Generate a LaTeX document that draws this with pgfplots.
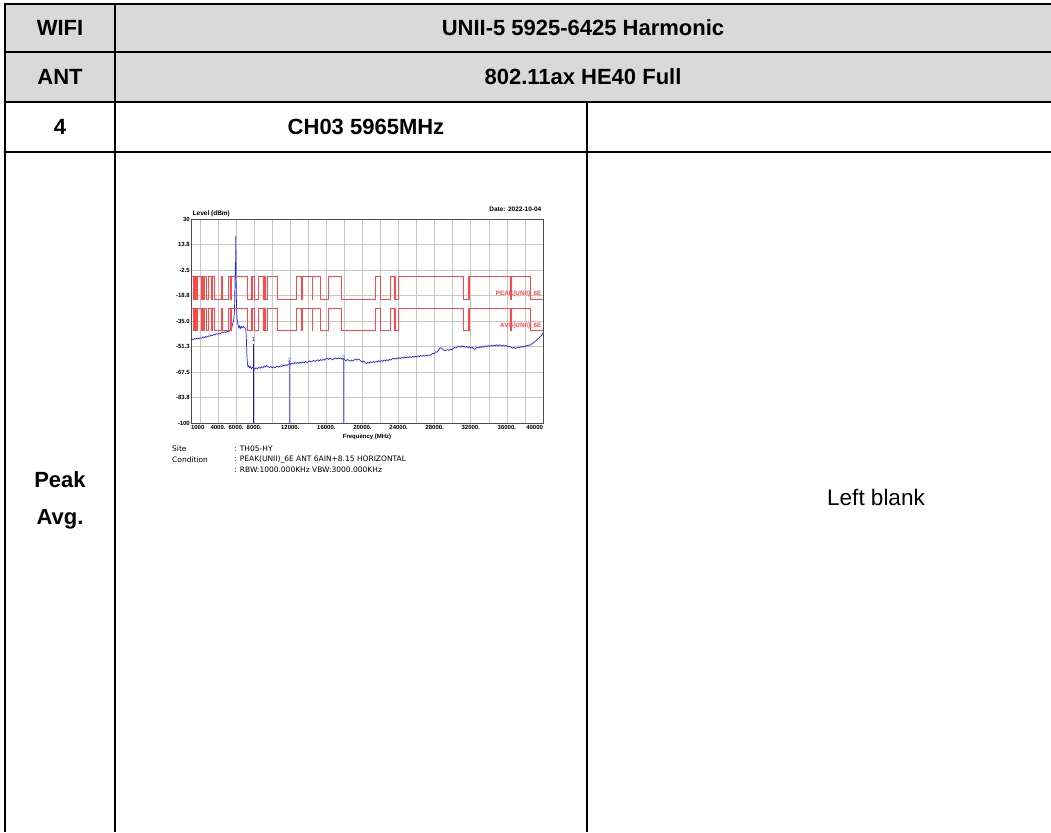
\documentclass[border=0pt]{standalone}
\usepackage{pgfplots}
\pgfplotsset{compat=1.18}
\usepackage{fontspec}
\setmainfont{Liberation Sans}
\newfontfamily\sitefont{DejaVu Sans}
\definecolor{hdrgray}{HTML}{D9D9D9}
\definecolor{limred}{HTML}{FF4848}
\definecolor{trace}{HTML}{2323FF}
\definecolor{mkone}{HTML}{1A1AA8}
\definecolor{mktwo}{HTML}{6A6AFF}
\newcommand{\chartfont}{\fontsize{6}{7}\selectfont\bfseries}
\newcommand{\hdrfont}{\fontsize{22}{26}\selectfont}
\pgfplotstableread{
f peak avg
1000 -6.8 -27
1300 -6.8 -27
1300 -21.2 -41.2
1427 -21.2 -41.2
1427 -6.8 -27
1435 -6.8 -27
1435 -21.2 -41.2
1626.5 -21.2 -41.2
1626.5 -6.8 -27
1645.5 -6.8 -27
1645.5 -21.2 -41.2
1646.5 -21.2 -41.2
1646.5 -6.8 -27
1660 -6.8 -27
1660 -21.2 -41.2
1710 -21.2 -41.2
1710 -6.8 -27
1718.8 -6.8 -27
1718.8 -21.2 -41.2
1722.2 -21.2 -41.2
1722.2 -6.8 -27
2200 -6.8 -27
2200 -21.2 -41.2
2300 -21.2 -41.2
2300 -6.8 -27
2310 -6.8 -27
2310 -21.2 -41.2
2390 -21.2 -41.2
2390 -6.8 -27
2483.5 -6.8 -27
2483.5 -21.2 -41.2
2500 -21.2 -41.2
2500 -6.8 -27
2690 -6.8 -27
2690 -21.2 -41.2
2900 -21.2 -41.2
2900 -6.8 -27
3260 -6.8 -27
3260 -21.2 -41.2
3267 -21.2 -41.2
3267 -6.8 -27
3332 -6.8 -27
3332 -21.2 -41.2
3339 -21.2 -41.2
3339 -6.8 -27
3345.8 -6.8 -27
3345.8 -21.2 -41.2
3358 -21.2 -41.2
3358 -6.8 -27
3600 -6.8 -27
3600 -21.2 -41.2
4400 -21.2 -41.2
4400 -6.8 -27
4500 -6.8 -27
4500 -21.2 -41.2
5150 -21.2 -41.2
5150 -6.8 -27
5350 -6.8 -27
5350 -21.2 -41.2
5460 -21.2 -41.2
5460 -6.8 -27
7250 -6.8 -27
7250 -21.2 -41.2
7750 -21.2 -41.2
7750 -6.8 -27
8025 -6.8 -27
8025 -21.2 -41.2
8500 -21.2 -41.2
8500 -6.8 -27
9000 -6.8 -27
9000 -21.2 -41.2
9200 -21.2 -41.2
9200 -6.8 -27
9300 -6.8 -27
9300 -21.2 -41.2
9500 -21.2 -41.2
9500 -6.8 -27
10600 -6.8 -27
10600 -21.2 -41.2
12700 -21.2 -41.2
12700 -6.8 -27
13250 -6.8 -27
13250 -21.2 -41.2
13400 -21.2 -41.2
13400 -6.8 -27
14470 -6.8 -27
14470 -21.2 -41.2
14500 -21.2 -41.2
14500 -6.8 -27
15350 -6.8 -27
15350 -21.2 -41.2
16200 -21.2 -41.2
16200 -6.8 -27
17700 -6.8 -27
17700 -21.2 -41.2
21400 -21.2 -41.2
21400 -6.8 -27
22010 -6.8 -27
22010 -21.2 -41.2
23120 -21.2 -41.2
23120 -6.8 -27
23600 -6.8 -27
23600 -21.2 -41.2
24000 -21.2 -41.2
24000 -6.8 -27
31200 -6.8 -27
31200 -21.2 -41.2
31800 -21.2 -41.2
31800 -6.8 -27
36430 -6.8 -27
36430 -21.2 -41.2
36500 -21.2 -41.2
36500 -6.8 -27
38600 -6.8 -27
38600 -21.2 -41.2
40000 -21.2 -41.2
}\limits
\begin{document}
\begin{tikzpicture}[x=1pt,y=-1pt]
% header background
\fill[hdrgray] (5,4) rectangle (1051,102);
% table lines
\begin{scope}[line width=2pt, black]
\draw (5,4) -- (1051,4);
\draw (5,52) -- (1051,52);
\draw (5,102) -- (1051,102);
\draw (5,152) -- (1051,152);
\draw (5,3) -- (5,832);
\draw (115,3) -- (115,832);
\draw (587,102) -- (587,832);
\end{scope}
% table text
\node[font=\hdrfont\bfseries] at (60,28) {WIFI};
\node[font=\hdrfont\bfseries] at (583,28) {UNII-5 5925-6425 Harmonic};
\node[font=\hdrfont\bfseries] at (60,77) {ANT};
\node[font=\hdrfont\bfseries] at (583,77) {802.11ax HE40 Full};
\node[font=\hdrfont\bfseries] at (60,127) {4};
\node[font=\hdrfont\bfseries] at (366,127) {CH03 5965MHz};
\node[font=\hdrfont\bfseries] at (60,480) {Peak};
\node[font=\hdrfont\bfseries] at (60,519) {Avg.};
\node[font=\fontsize{22.5}{26}\selectfont] at (876,497) {Left blank};
% site text
\begin{scope}[font=\sitefont\fontsize{7.5}{9}\selectfont, inner sep=0pt]
\node[anchor=west] at (172,449) {Site};
\node[anchor=west] at (234,449) {: TH05-HY};
\node[anchor=west] at (172,459.5) {Condition};
\node[anchor=west] at (234,459.5) {: PEAK(UNII)\_6E ANT 6AIN+8.15 HORIZONTAL};
\node[anchor=west] at (234,469.5) {: RBW:1000.000KHz VBW:3000.000KHz};
\end{scope}
\begin{axis}[
  at={(191pt,-423pt)}, anchor=south west,
  width=352pt, height=204pt, scale only axis,
  xmin=1000, xmax=40000, ymin=-100, ymax=30,
  scaled x ticks=false, scaled y ticks=false,
  xtick={1000,4000,6000,8000,12000,16000,20000,24000,28000,32000,36000,40000},
  xticklabels={\makebox[0pt][l]{1000},4000.,6000.,8000.,12000.,16000.,20000.,24000.,28000.,32000.,36000.,\makebox[0pt][r]{40000}},
  minor xtick={2000,4000,...,38000},
  ytick={-100,-83.75,-67.5,-51.25,-35,-18.75,-2.5,13.75,30},
  yticklabels={-100,-83.8,-67.5,-51.3,-35.0,-18.8,-2.5,13.8,30},
  /pgf/number format/assume math mode=true,
  grid=both,
  major grid style={black!22, line width=0.7pt},
  minor grid style={black!22, line width=0.7pt},
  major tick length=0pt, minor tick length=0pt,
  axis line style={black!70, line width=0.8pt},
  tick label style={font=\chartfont},
  xticklabel style={inner sep=1pt, yshift=-1pt},
  yticklabel style={inner sep=1pt},
  xlabel={Frequency (MHz)},
  xlabel style={font=\chartfont, inner sep=0pt, at={(axis description cs:0.5,0)}, anchor=center, yshift=-14pt},
  ylabel={Level (dBm)},
  ylabel style={rotate=-90, at={(axis description cs:0,1)}, anchor=south west, inner sep=1.5pt, font=\fontsize{6.5}{7}\selectfont\bfseries},
  title={Date: 2022-10-04},
  title style={at={(axis description cs:1,1)}, anchor=south east, inner sep=1.5pt, font=\fontsize{6.5}{7}\selectfont\bfseries},
]
% markers
\addplot[color=mkone, line width=1.2pt] coordinates {(7930,-100) (7930,-49.7)};
\addplot[color=mktwo, line width=1.1pt] coordinates {(11930,-100) (11930,-59.9)};
\addplot[color=mktwo, line width=1.1pt] coordinates {(17895,-100) (17895,-58.8)};
% measured trace
\addplot[color=trace, line width=0.7pt] coordinates {
(1000,-47.2) (1100,-46.4) (1250,-46.9) (1400,-46.1) (1550,-46.6) (1700,-45.8) (1850,-46.3) (2000,-45.7)
(2150,-46.0) (2300,-45.2) (2450,-45.6) (2600,-44.9) (2750,-45.3) (2900,-44.5) (3050,-44.8) (3200,-44.0)
(3350,-44.4) (3500,-43.6) (3650,-43.9) (3800,-43.1) (3950,-43.5) (4100,-42.7) (4250,-43.0) (4400,-42.3)
(4550,-42.6) (4700,-41.9) (4850,-42.3) (5000,-41.6) (5150,-41.9) (5300,-41.0) (5450,-40.2) (5550,-38.5)
(5650,-36.0) (5750,-33.5) (5820,-28.0) (5870,-12.0) (5905,2.5) (5935,-2.0) (5965,19.2) (5990,-4.0)
(6015,-17.5) (6050,-26.0) (6100,-33.5) (6200,-37.0) (6300,-39.5) (6400,-38.2) (6500,-39.8) (6600,-38.6)
(6700,-39.1) (6800,-38.4) (6900,-39.0) (7000,-39.6) (7080,-40.8) (7130,-45.0) (7170,-53.0) (7210,-58.5)
(7260,-62.5) (7320,-64.2) (7400,-63.6) (7500,-64.9) (7600,-64.1) (7700,-65.3) (7800,-64.6) (7930,-65.0)
(8050,-65.7) (8200,-64.8) (8350,-65.4) (8500,-64.5) (8650,-65.1) (8800,-64.2) (8950,-64.9) (9100,-63.8)
(9250,-64.3) (9400,-63.4) (9550,-64.1) (9700,-64.7) (9850,-64.0) (10000,-64.8) (10150,-64.2) (10300,-64.9)
(10450,-64.1) (10600,-63.8) (10750,-64.4) (10900,-63.5) (11050,-63.9) (11200,-63.2) (11350,-63.6) (11500,-62.8)
(11650,-63.4) (11800,-62.5) (11930,-62.0) (12050,-62.6) (12200,-61.9) (12350,-62.4) (12500,-61.5) (12650,-62.0)
(12800,-61.4) (12950,-62.1) (13100,-61.2) (13250,-61.8) (13400,-61.0) (13550,-61.6) (13700,-60.8) (13850,-61.5)
(14000,-61.0) (14150,-60.4) (14300,-61.1) (14450,-60.6) (14600,-60.1) (14750,-60.8) (14900,-60.2) (15050,-59.7)
(15200,-60.4) (15350,-59.6) (15500,-60.2) (15650,-59.4) (15800,-59.9) (15950,-59.0) (16100,-58.7) (16250,-59.5)
(16400,-58.6) (16550,-59.3) (16700,-59.8) (16850,-59.0) (17000,-58.5) (17150,-59.2) (17300,-58.4) (17450,-59.0)
(17600,-58.6) (17750,-59.4) (17895,-58.9) (18050,-59.8) (18200,-60.3) (18350,-59.5) (18500,-60.1) (18650,-60.6)
(18800,-59.8) (18950,-60.4) (19100,-59.7) (19250,-59.2) (19400,-59.9) (19550,-59.3) (19700,-59.8) (19850,-60.6)
(20000,-61.2) (20150,-60.5) (20300,-61.6) (20450,-62.1) (20600,-61.3) (20750,-61.9) (20900,-61.0) (21050,-61.6)
(21200,-60.8) (21350,-61.4) (21500,-60.7) (21650,-61.1) (21800,-60.3) (21950,-60.9) (22100,-60.2) (22250,-60.7)
(22400,-59.9) (22550,-60.4) (22700,-59.7) (22850,-60.2) (23000,-59.4) (23150,-59.9) (23300,-59.1) (23450,-58.7)
(23600,-59.3) (23750,-58.6) (23900,-59.1) (24050,-58.4) (24200,-58.9) (24350,-58.2) (24500,-58.7) (24650,-58.0)
(24800,-58.6) (24950,-57.9) (25100,-58.4) (25250,-57.7) (25400,-58.2) (25550,-57.6) (25700,-58.1) (25850,-57.4)
(26000,-57.9) (26150,-57.2) (26300,-57.7) (26450,-57.0) (26600,-57.5) (26750,-56.9) (26900,-57.4) (27050,-56.7)
(27200,-57.2) (27350,-56.5) (27500,-56.9) (27650,-56.2) (27800,-55.6) (27950,-55.8) (28100,-54.6) (28250,-54.9)
(28400,-53.8) (28550,-52.4) (28700,-51.9) (28850,-52.8) (29000,-53.5) (29150,-53.9) (29300,-53.6) (29450,-53.2)
(29600,-53.8) (29750,-52.9) (29900,-53.3) (30050,-52.4) (30200,-51.8) (30350,-52.3) (30500,-51.5) (30650,-51.0)
(30800,-51.6) (30950,-50.9) (31100,-51.4) (31250,-51.0) (31400,-51.7) (31550,-51.3) (31700,-52.0) (31850,-51.5)
(32000,-52.3) (32150,-51.8) (32300,-52.6) (32450,-53.2) (32600,-52.1) (32750,-51.6) (32900,-52.2) (33050,-51.4)
(33200,-51.9) (33350,-51.1) (33500,-51.6) (33650,-50.8) (33800,-51.3) (33950,-50.7) (34100,-51.2) (34250,-50.5)
(34400,-51.0) (34550,-50.3) (34700,-50.9) (34850,-50.2) (35000,-50.8) (35150,-50.1) (35300,-50.6) (35450,-50.9)
(35600,-50.4) (35750,-51.0) (35900,-50.6) (36050,-51.2) (36200,-51.6) (36350,-51.2) (36500,-51.9) (36650,-52.3)
(36800,-51.8) (36950,-52.5) (37100,-52.1) (37250,-51.6) (37400,-52.0) (37550,-51.3) (37700,-51.7) (37850,-51.0)
(38000,-51.3) (38150,-50.6) (38300,-50.9) (38450,-50.2) (38600,-50.5) (38750,-49.6) (38900,-49.1) (39050,-48.3)
(39200,-47.6) (39350,-46.8) (39500,-46.0) (39650,-45.3) (39800,-44.3) (39900,-43.6) (40000,-42.8)};
% limit lines (restricted bands at the lower level)
\addplot[color=limred, line width=1.15pt] table[x=f, y=avg] {\limits};
\addplot[color=limred, line width=1.15pt] table[x=f, y=peak] {\limits};
\node[font=\fontsize{6}{7}\selectfont, text=mkone, inner sep=0pt] at (axis cs:7930,-46.6) {1};
\node[font=\fontsize{6}{7}\selectfont, text=mktwo, inner sep=0pt] at (axis cs:11930,-59.9) {2};
\node[font=\fontsize{6}{7}\selectfont, text=mktwo, inner sep=0pt] at (axis cs:17895,-58.4) {3};
\node[anchor=east, text=limred, font=\fontsize{6.3}{7}\selectfont\bfseries, inner sep=0.5pt] at (axis cs:39900,-18) {PEAK(UNII)\_6E};
\node[anchor=east, text=limred, font=\fontsize{6.3}{7}\selectfont\bfseries, inner sep=0.5pt] at (axis cs:39900,-38) {AVG(UNII)\_6E};
\end{axis}
\pgfresetboundingbox
\path (0,0) rectangle (1051,832);
\end{tikzpicture}
\end{document}
